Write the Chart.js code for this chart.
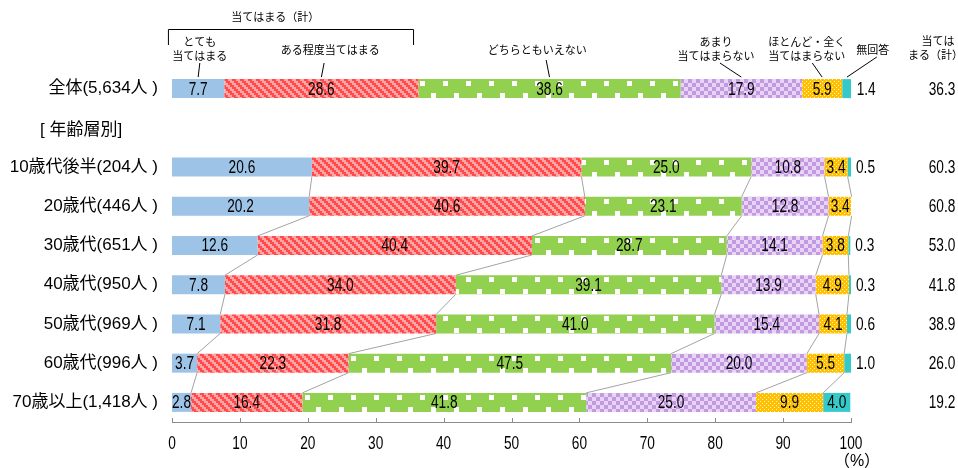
<!DOCTYPE html>
<html lang="ja">
<head>
<meta charset="utf-8">
<title>当てはまる度合い（年齢層別）</title>
<script src="https://cdn.jsdelivr.net/npm/chart.js@4/dist/chart.umd.min.js"></script>
<style>
  html, body { margin: 0; padding: 0; background: #fff; }
  #wrap { width: 958px; height: 468px; position: relative; }
</style>
</head>
<body>
<div id="wrap"><canvas id="chart"></canvas></div>
<script>
// Row labels (index 1 is the spacer row that carries the group heading)
const categories = [
  '全体(5,634人 )', '',
  '10歳代後半(204人 )', '20歳代(446人 )', '30歳代(651人 )', '40歳代(950人 )',
  '50歳代(969人 )', '60歳代(996人 )', '70歳以上(1,418人 )'
];
const groupHeading = '[ 年齢層別]';

// Answer shares (%) per row
const veryMuch = [7.7, null, 20.6, 20.2, 12.6, 7.8, 7.1, 3.7, 2.8];
const somewhat = [28.6, null, 39.7, 40.6, 40.4, 34.0, 31.8, 22.3, 16.4];
const neither  = [38.6, null, 25.0, 23.1, 28.7, 39.1, 41.0, 47.5, 41.8];
const notMuch  = [17.9, null, 10.8, 12.8, 14.1, 13.9, 15.4, 20.0, 25.0];
const notAtAll = [5.9, null, 3.4, 3.4, 3.8, 4.9, 4.1, 5.5, 9.9];
const noAnswer = [1.4, null, 0.5, null, 0.3, 0.3, 0.6, 1.0, 4.0];
// "当てはまる（計）" column
const applyTotal = [36.3, null, 60.3, 60.8, 53.0, 41.8, 38.9, 26.0, 19.2];

const seriesNames = ['とても当てはまる', 'ある程度当てはまる', 'どちらともいえない',
                     'あまり当てはまらない', 'ほとんど・全く当てはまらない', '無回答'];
const seriesValues = [veryMuch, somewhat, neither, notMuch, notAtAll, noAnswer];
const xTicks = [0, 10, 20, 30, 40, 50, 60, 70, 80, 90, 100];

const NUM_FONT = '18px "Liberation Sans", "Noto Sans CJK JP", sans-serif';
const NUM_SQUEEZE = 0.76;   // narrow numerals
const CAT_FONT = '17px "Liberation Sans", "Noto Sans CJK JP", sans-serif';
const NOTE_FONT = '11px "Noto Sans CJK JP", sans-serif';
const BAR = 19;

// ---- fill tiles -------------------------------------------------------
function makeTile(w, h, paint) {
  const c = document.createElement('canvas');
  c.width = w; c.height = h;
  paint(c.getContext('2d'));
  return c;
}
const solidColors = ['#9dc3e6', '#ff5b5b', '#92d050', '#c9a1e4', '#ffc000', '#36c9c9'];
const tiles = [
  null,
  // red / pink diagonal stripes
  makeTile(8, 8, g => {
    for (let y = 0; y < 8; y++) for (let x = 0; x < 8; x++) {
      const k = (((Math.floor(x / 2) - Math.floor(y / 2)) % 4) + 4) % 4;
      g.fillStyle = k < 2 ? '#ff4b4b' : '#ffa4a4';
      g.fillRect(x, y, 1, 1);
    }
  }),
  // green with white squares
  makeTile(23, 40, g => {
    g.fillStyle = '#92d050'; g.fillRect(0, 0, 23, 40);
    g.fillStyle = '#ffffff';
    g.fillRect(6, 2, 5, 5);
    g.fillRect(17, 14, 5, 5);
  }),
  // purple checkerboard
  makeTile(8, 8, g => {
    g.fillStyle = '#e8d4f4'; g.fillRect(0, 0, 8, 8);
    g.fillStyle = '#c39ae2';
    g.fillRect(0, 0, 4, 4); g.fillRect(4, 4, 4, 4);
  }),
  // orange with white dots
  makeTile(4, 4, g => {
    g.fillStyle = '#ffc000'; g.fillRect(0, 0, 4, 4);
    g.fillStyle = '#fff4d0';
    g.fillRect(0, 0, 1, 1); g.fillRect(2, 2, 1, 1);
  }),
  null
];
const patternCache = {};
function fillFor(chart, d, i) {
  if (!tiles[d]) return solidColors[d];
  const y = chart.scales.y;
  const top = Math.round(y.getPixelForValue(i) - BAR / 2);
  const key = d + ':' + top;
  if (!patternCache[key]) {
    const p = chart.ctx.createPattern(tiles[d], 'repeat');
    p.setTransform(new DOMMatrix([1, 0, 0, 1, 0, top]));
    patternCache[key] = p;
  }
  return patternCache[key];
}

function cumulative(row, upto) {
  let s = 0;
  for (let k = 0; k <= upto; k++) s += seriesValues[k][row] || 0;
  return s;
}

// numerals are drawn horizontally condensed
function drawNum(ctx, text, x, y, align) {
  ctx.save();
  ctx.translate(x, y);
  ctx.scale(NUM_SQUEEZE, 1);
  ctx.font = NUM_FONT;
  ctx.textAlign = align;
  ctx.textBaseline = 'middle';
  ctx.fillText(text, 0, 0);
  ctx.restore();
}

// ---- drawing helpers -------------------------------------------------
const overlay = {
  id: 'overlay',
  afterDatasetsDraw(chart) {
    const { ctx, chartArea } = chart;
    const xs = chart.scales.x, ys = chart.scales.y;
    ctx.save();

    // connector lines between adjacent age rows
    ctx.strokeStyle = '#a3a3a3';
    ctx.lineWidth = 1;
    for (let i = 2; i < categories.length - 1; i++) {
      for (let k = 0; k < 5; k++) {
        const x1 = xs.getPixelForValue(cumulative(i, k));
        const x2 = xs.getPixelForValue(cumulative(i + 1, k));
        ctx.beginPath();
        ctx.moveTo(x1, ys.getPixelForValue(i) + BAR / 2);
        ctx.lineTo(x2, ys.getPixelForValue(i + 1) - BAR / 2);
        ctx.stroke();
      }
    }

    // values inside the segments
    ctx.fillStyle = '#000';
    seriesValues.forEach((vals, d) => {
      const meta = chart.getDatasetMeta(d);
      vals.forEach((v, i) => {
        if (v == null) return;
        const el = meta.data[i];
        const { x, base, y } = el.getProps(['x', 'base', 'y'], true);
        if (d === 5 && v < 2) {
          drawNum(ctx, v.toFixed(1), x + 5, y + 1, 'left');
        } else {
          drawNum(ctx, v.toFixed(1), (x + base) / 2, y + 1, 'center');
        }
      });
    });

    // "当てはまる（計）" column
    applyTotal.forEach((v, i) => {
      if (v == null) return;
      drawNum(ctx, v.toFixed(1), chartArea.right + 91, ys.getPixelForValue(i) + 1, 'center');
    });

    // value axis labels
    xTicks.forEach(t => {
      drawNum(ctx, String(t), xs.getPixelForValue(t), chartArea.bottom + 22, 'center');
    });

    // upward tick marks on the value axis
    ctx.strokeStyle = '#8c8c8c';
    xTicks.forEach(t => {
      const x = Math.round(xs.getPixelForValue(t)) + 0.5;
      ctx.beginPath();
      ctx.moveTo(x, chartArea.bottom);
      ctx.lineTo(x, chartArea.bottom - 4);
      ctx.stroke();
    });
    ctx.restore();
  },
  afterDraw(chart) {
    const { ctx, chartArea } = chart;
    const xs = chart.scales.x, ys = chart.scales.y;
    const top = chartArea.top;
    const barTop = ys.getPixelForValue(0) - BAR / 2;
    ctx.save();
    ctx.fillStyle = '#000';
    ctx.strokeStyle = '#000';
    ctx.lineWidth = 1;
    ctx.textAlign = 'center';
    ctx.textBaseline = 'middle';
    ctx.font = NOTE_FONT;

    // callouts for each answer segment of the 全体 row
    const callouts = [
      { lines: ['とても', '当てはまる'], at: 4.1, from: 4.1 },
      { lines: ['ある程度当てはまる'], at: 23.3, from: 22.4 },
      { lines: ['どちらともいえない'], at: 53.8, from: 55.1, single: 60 },
      { lines: ['あまり', '当てはまらない'], at: 80.1, from: 80.7 },
      { lines: ['ほとんど・全く', '当てはまらない'], at: 93.5, from: 94.3 },
      { lines: ['無回答'], at: 103.2, from: 103.8, single: 57 }
    ];
    callouts.forEach((c, d) => {
      const cx = xs.getPixelForValue(c.at);
      if (c.lines.length === 2) {
        ctx.fillText(c.lines[0], cx, top - 27);
        ctx.fillText(c.lines[1], cx, top - 13);
      } else {
        ctx.fillText(c.lines[0], cx, top - 19);
      }
      const mid = cumulative(0, d) - (seriesValues[d][0] || 0) / 2;
      ctx.beginPath();
      ctx.moveTo(xs.getPixelForValue(c.from), c.single || top - 6);
      ctx.lineTo(xs.getPixelForValue(mid), barTop - 2);
      ctx.stroke();
    });

    // bracket over the two "当てはまる" answers
    const bx1 = xs.getPixelForValue(-0.6), bx2 = xs.getPixelForValue(35.5);
    ctx.beginPath();
    ctx.moveTo(bx1 + 0.5, top - 24);
    ctx.lineTo(bx1 + 0.5, top - 39.5);
    ctx.lineTo(bx2 + 0.5, top - 39.5);
    ctx.lineTo(bx2 + 0.5, top - 24);
    ctx.stroke();
    ctx.fillText('当てはまる（計）', xs.getPixelForValue(15.2), top - 52);

    // right column heading
    ctx.fillText('当ては', chartArea.right + 87, top - 28);
    ctx.textAlign = 'right';
    ctx.fillText('まる（計）', chartArea.right + 112, top - 14);

    // group heading
    ctx.font = CAT_FONT;
    ctx.textAlign = 'left';
    ctx.fillText(groupHeading, 40, ys.getPixelForValue(1) + 2);

    // unit under the axis
    ctx.font = '16px "Liberation Sans", "Noto Sans CJK JP", sans-serif';
    ctx.textAlign = 'center';
    ctx.fillText('（%）', xs.getPixelForValue(100) + 6, chartArea.bottom + 40);
    ctx.restore();
  }
};

new Chart(document.getElementById('chart'), {
  type: 'bar',
  data: {
    labels: categories,
    datasets: seriesValues.map((vals, d) => ({
      label: seriesNames[d],
      data: vals,
      backgroundColor: ctx => ctx.type === 'data' ? fillFor(ctx.chart, d, ctx.dataIndex) : solidColors[d],
      borderWidth: 0,
      barThickness: BAR,
      inflateAmount: 0
    }))
  },
  options: {
    indexAxis: 'y',
    responsive: true,
    maintainAspectRatio: false,
    animation: false,
    layout: { padding: { top: 69, right: 107, left: 0, bottom: 0 } },
    plugins: { legend: { display: false }, tooltip: { enabled: false } },
    scales: {
      x: {
        type: 'linear', stacked: true, min: 0, max: 100,
        afterFit: s => { s.height = 46; },
        afterBuildTicks: s => { s.ticks = xTicks.map(v => ({ value: v })); },
        grid: { display: false, drawTicks: false },
        border: { display: true, color: '#8c8c8c', width: 1 },
        ticks: { display: false }
      },
      y: {
        stacked: true,
        afterFit: s => { s.width = 172; },
        grid: { display: false, drawTicks: false },
        border: { display: false },
        ticks: { color: '#000', font: { family: '"Liberation Sans", "Noto Sans CJK JP", sans-serif', size: 17 }, padding: 14, autoSkip: false }
      }
    }
  },
  plugins: [overlay]
});
</script>
</body>
</html>
